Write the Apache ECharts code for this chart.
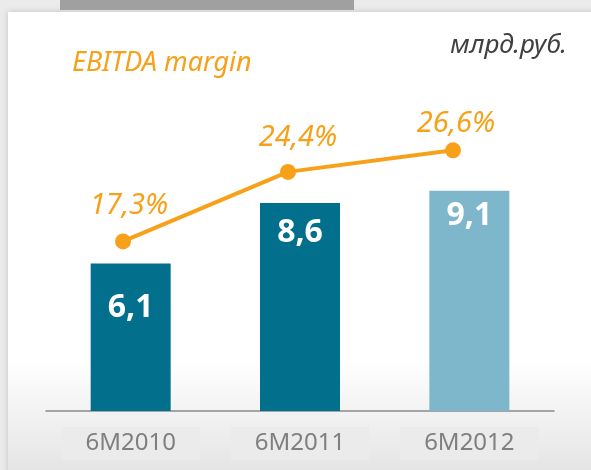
<!DOCTYPE html>
<html>
<head>
<meta charset="utf-8">
<script src="https://cdn.jsdelivr.net/npm/echarts@6/dist/echarts.min.js"></script>
<style>
  html, body { margin: 0; padding: 0; background: #ebebeb; }
  #chart { width: 591px; height: 470px; }
</style>
</head>
<body>
<div id="chart"></div>
<script>
// данные
var categories = ['6M2010', '6M2011', '6M2012'];
var ebitda = [6.1, 8.6, 9.1];          // млрд.руб.
var ebitdaMargin = [17.3, 24.4, 26.6]; // %

var barColors = ['#02708c', '#02708c', '#7eb7cc'];
var orange = '#f7a11a';
var font = 'Noto Sans';

// подписи сдвинуты вручную, как на оригинале
var barLabelDy = [24, 9, 4];
var lineLabelOffset = [[6, -9], [10, -7], [3, 0]];

function comma(v) {
  return v.toFixed(1).replace('.', ',');
}

var myChart = echarts.init(document.getElementById('chart'));

var option = {
  backgroundColor: '#ebebeb',
  animation: false,
  graphic: [
    {
      type: 'rect', z: -10,
      shape: { x: 8, y: 12, width: 600, height: 470 },
      style: {
        fill: new echarts.graphic.LinearGradient(0, 0, 0, 1, [
          { offset: 0, color: '#ffffff' },
          { offset: 0.74, color: '#ffffff' },
          { offset: 1, color: '#e2e2e2' }
        ]),
        shadowBlur: 6,
        shadowColor: 'rgba(0,0,0,0.18)'
      }
    },
    {
      type: 'rect', z: -9,
      shape: { x: 60, y: 0, width: 294, height: 10 },
      style: { fill: '#a0a0a0' }
    },
    {
      type: 'text', z: 5,
      x: 72, y: 63,
      style: {
        text: 'EBITDA margin',
        fill: orange,
        font: 'italic 27px "Noto Sans"',
        verticalAlign: 'middle'
      }
    },
    {
      type: 'text', z: 5,
      x: 567, y: 46,
      style: {
        text: 'млрд.руб.',
        fill: '#404040',
        font: 'italic 26px "Noto Sans"',
        align: 'right',
        verticalAlign: 'middle'
      }
    }
  ],
  grid: [
    { left: 46, width: 508, top: 169, bottom: 59 },
    { left: 123, width: 330, top: 117, bottom: 59 }
  ],
  xAxis: [
    {
      type: 'category',
      gridIndex: 0,
      data: categories,
      axisTick: { show: false },
      axisLine: { lineStyle: { color: '#8a8a8a', width: 1.5 } },
      axisLabel: {
        margin: 16,
        fontFamily: font,
        fontSize: 24,
        color: '#7f7f7f',
        backgroundColor: '#ebebeb',
        width: 138,
        lineHeight: 25,
        padding: [4, 0, 4, 0],
        align: 'center'
      }
    },
    {
      type: 'category',
      gridIndex: 1,
      data: categories,
      boundaryGap: false,
      show: false
    }
  ],
  yAxis: [
    { type: 'value', gridIndex: 0, min: 0, max: 10, show: false },
    { type: 'value', gridIndex: 1, min: 0, max: 30, show: false }
  ],
  series: [
    {
      name: 'EBITDA',
      type: 'bar',
      xAxisIndex: 0,
      yAxisIndex: 0,
      barWidth: 80,
      data: ebitda.map(function (v, i) {
        return {
          value: v,
          itemStyle: { color: barColors[i] },
          label: { offset: [0, barLabelDy[i]] }
        };
      }),
      label: {
        show: true,
        position: 'insideTop',
        distance: 5,
        color: '#ffffff',
        fontFamily: font,
        fontWeight: 'bold',
        fontSize: 32,
        lineHeight: 32,
        formatter: function (p) { return comma(p.value); }
      }
    },
    {
      name: 'EBITDA margin',
      type: 'line',
      xAxisIndex: 1,
      yAxisIndex: 1,
      z: 5,
      symbol: 'circle',
      symbolSize: 16,
      lineStyle: { color: orange, width: 4 },
      itemStyle: { color: orange },
      data: ebitdaMargin.map(function (v, i) {
        return { value: v, label: { offset: lineLabelOffset[i] } };
      }),
      label: {
        show: true,
        position: 'top',
        distance: 5,
        color: orange,
        fontFamily: font,
        fontStyle: 'italic',
        fontSize: 29,
        lineHeight: 28,
        formatter: function (p) { return comma(p.value) + '%'; }
      }
    }
  ]
};

myChart.setOption(option);
window.addEventListener('resize', function () {
  myChart.resize();
});
</script>
</body>
</html>
